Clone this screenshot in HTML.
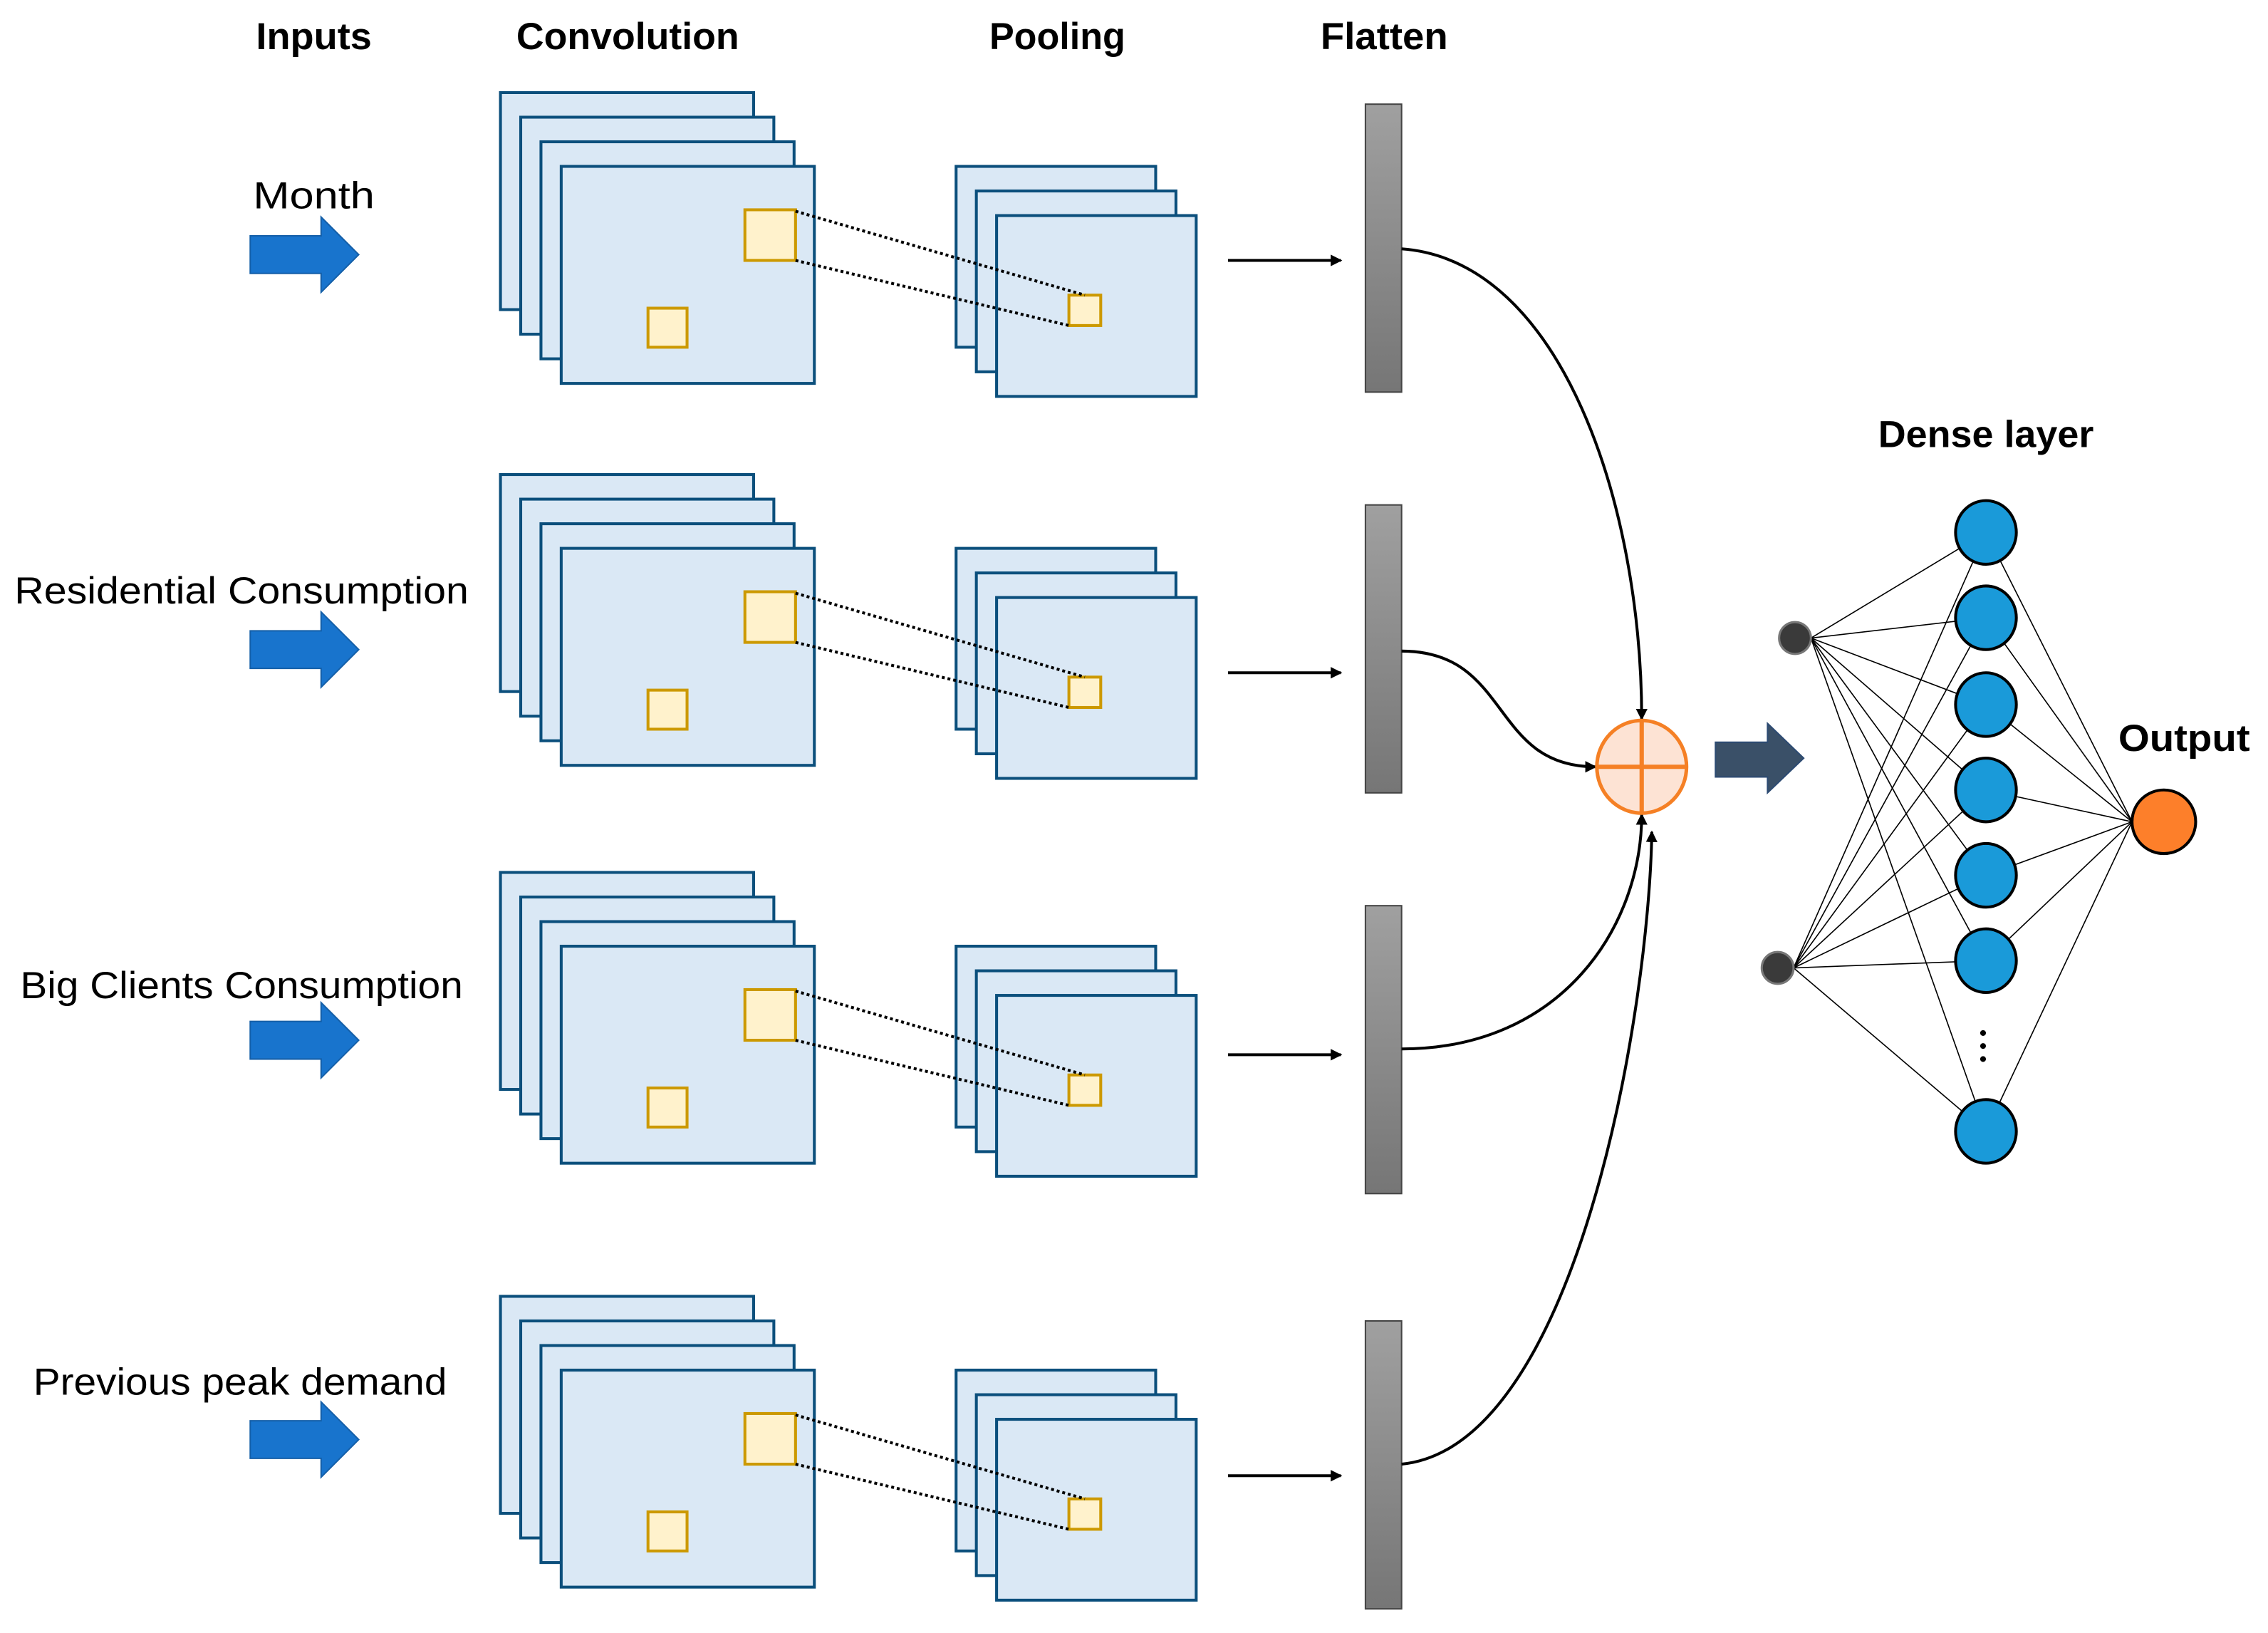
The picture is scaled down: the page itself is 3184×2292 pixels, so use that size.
<!DOCTYPE html>
<html><head><meta charset="utf-8"><style>html,body{margin:0;padding:0;background:#fff}svg{display:block}</style></head>
<body>
<svg width="3184" height="2292" viewBox="0 0 1568 1128.7" preserveAspectRatio="none" xmlns="http://www.w3.org/2000/svg" font-family="Liberation Sans, sans-serif">
<defs>
<linearGradient id="g" x1="0" y1="0" x2="0" y2="1"><stop offset="0" stop-color="#a0a0a0"/><stop offset="1" stop-color="#767676"/></linearGradient>
<marker id="ah" markerWidth="8" markerHeight="8" refX="7" refY="4" orient="auto" markerUnits="userSpaceOnUse"><path d="M0,0 L8,4 L0,8 Z" fill="#000"/></marker>
</defs>
<g font-weight="bold" font-size="26" text-anchor="middle" fill="#000">
<text x="217" y="34" textLength="80" lengthAdjust="spacingAndGlyphs">Inputs</text>
<text x="434" y="34" textLength="154" lengthAdjust="spacingAndGlyphs">Convolution</text>
<text x="731" y="34" textLength="94" lengthAdjust="spacingAndGlyphs">Pooling</text>
<text x="957" y="34" textLength="88" lengthAdjust="spacingAndGlyphs">Flatten</text>
<text x="1373" y="309" textLength="149" lengthAdjust="spacingAndGlyphs">Dense layer</text>
<text x="1510" y="519" textLength="91" lengthAdjust="spacingAndGlyphs">Output</text>
</g>
<g font-size="26" text-anchor="middle" fill="#000">
<text x="217" y="144" textLength="84" lengthAdjust="spacingAndGlyphs">Month</text>
<text x="167" y="417" textLength="314" lengthAdjust="spacingAndGlyphs">Residential Consumption</text>
<text x="167" y="690" textLength="306" lengthAdjust="spacingAndGlyphs">Big Clients Consumption</text>
<text x="166" y="964" textLength="286" lengthAdjust="spacingAndGlyphs">Previous peak demand</text>
</g>
<!-- rows -->
<g id="rows">
<!-- Row template instantiated 4 times -->
</g>
<g stroke="#0b4f7c" stroke-width="2" fill="#dae8f5">
<!-- row1 -->
<rect x="346" y="64" width="175" height="150"/><rect x="360" y="81" width="175" height="150"/><rect x="374" y="98" width="175" height="150"/><rect x="388" y="115" width="175" height="150"/>
<rect x="661" y="115" width="138" height="125"/><rect x="675" y="132" width="138" height="125"/><rect x="689" y="149" width="138" height="125"/>
<!-- row2 -->
<rect x="346" y="328" width="175" height="150"/><rect x="360" y="345" width="175" height="150"/><rect x="374" y="362" width="175" height="150"/><rect x="388" y="379" width="175" height="150"/>
<rect x="661" y="379" width="138" height="125"/><rect x="675" y="396" width="138" height="125"/><rect x="689" y="413" width="138" height="125"/>
<!-- row3 -->
<rect x="346" y="603" width="175" height="150"/><rect x="360" y="620" width="175" height="150"/><rect x="374" y="637" width="175" height="150"/><rect x="388" y="654" width="175" height="150"/>
<rect x="661" y="654" width="138" height="125"/><rect x="675" y="671" width="138" height="125"/><rect x="689" y="688" width="138" height="125"/>
<!-- row4 -->
<rect x="346" y="896" width="175" height="150"/><rect x="360" y="913" width="175" height="150"/><rect x="374" y="930" width="175" height="150"/><rect x="388" y="947" width="175" height="150"/>
<rect x="661" y="947" width="138" height="125"/><rect x="675" y="964" width="138" height="125"/><rect x="689" y="981" width="138" height="125"/>
</g>
<g fill="#fff2cc" stroke="#cc9900" stroke-width="2">
<rect x="515" y="145" width="35" height="35"/><rect x="448" y="213" width="27" height="27"/><rect x="739" y="204" width="22" height="21"/>
<rect x="515" y="409" width="35" height="35"/><rect x="448" y="477" width="27" height="27"/><rect x="739" y="468" width="22" height="21"/>
<rect x="515" y="684" width="35" height="35"/><rect x="448" y="752" width="27" height="27"/><rect x="739" y="743" width="22" height="21"/>
<rect x="515" y="977" width="35" height="35"/><rect x="448" y="1045" width="27" height="27"/><rect x="739" y="1036" width="22" height="21"/>
</g>
<g stroke="#000" stroke-width="2" stroke-dasharray="2,2">
<line x1="550" y1="146" x2="750" y2="204"/><line x1="550" y1="180" x2="739" y2="225"/>
<line x1="550" y1="410" x2="750" y2="468"/><line x1="550" y1="444" x2="739" y2="489"/>
<line x1="550" y1="685" x2="750" y2="743"/><line x1="550" y1="719" x2="739" y2="764"/>
<line x1="550" y1="978" x2="750" y2="1036"/><line x1="550" y1="1012" x2="739" y2="1057"/>
</g>
<g fill="#1874cd" stroke="#145fa8" stroke-width="1">
<path d="M173,163 H222 V150 L248,176 L222,202 V189 H173 Z"/>
<path d="M173,436 H222 V423 L248,449 L222,475 V462 H173 Z"/>
<path d="M173,706 H222 V693 L248,719 L222,745 V732 H173 Z"/>
<path d="M173,982 H222 V969 L248,995 L222,1021 V1008 H173 Z"/>
</g>
<g stroke="#000" stroke-width="2" marker-end="url(#ah)">
<line x1="849" y1="180" x2="927" y2="180"/><line x1="849" y1="465" x2="927" y2="465"/>
<line x1="849" y1="729" x2="927" y2="729"/><line x1="849" y1="1020" x2="927" y2="1020"/>
</g>
<g fill="url(#g)" stroke="#444" stroke-width="1">
<rect x="944" y="72" width="25" height="199"/><rect x="944" y="349" width="25" height="199"/>
<rect x="944" y="626" width="25" height="199"/><rect x="944" y="913" width="25" height="199"/>
</g>
<g stroke="#000" stroke-width="2" fill="none" marker-end="url(#ah)">
<path d="M969,172 C1080,180 1135,350 1135,497"/>
<path d="M969,450 C1045,450 1030,530 1103,530"/>
<path d="M969,725 C1080,725 1135,640 1135,563"/>
<path d="M969,1012 C1090,1000 1140,700 1142,575"/>
</g>
<ellipse cx="1135" cy="530" rx="31" ry="32" fill="#fde3d4" stroke="#f58025" stroke-width="2.5"/>
<g stroke="#f58025" stroke-width="3"><line x1="1104" y1="530" x2="1166" y2="530"/><line x1="1135" y1="498" x2="1135" y2="562"/></g>
<path d="M1186,513 H1222 V500 L1247,524 L1222,548 V537 H1186 Z" fill="#3a5068" stroke="#2c4a72" stroke-width="1"/>
<g stroke="#000" stroke-width="0.8">
<line x1="1252" y1="441" x2="1373" y2="368"/><line x1="1252" y1="441" x2="1373" y2="427"/><line x1="1252" y1="441" x2="1373" y2="487"/><line x1="1252" y1="441" x2="1373" y2="546"/><line x1="1252" y1="441" x2="1373" y2="605"/><line x1="1252" y1="441" x2="1373" y2="664"/><line x1="1252" y1="441" x2="1373" y2="782"/>
<line x1="1240" y1="669" x2="1373" y2="368"/><line x1="1240" y1="669" x2="1373" y2="427"/><line x1="1240" y1="669" x2="1373" y2="487"/><line x1="1240" y1="669" x2="1373" y2="546"/><line x1="1240" y1="669" x2="1373" y2="605"/><line x1="1240" y1="669" x2="1373" y2="664"/><line x1="1240" y1="669" x2="1373" y2="782"/>
<line x1="1373" y1="368" x2="1474" y2="568"/><line x1="1373" y1="427" x2="1474" y2="568"/><line x1="1373" y1="487" x2="1474" y2="568"/><line x1="1373" y1="546" x2="1474" y2="568"/><line x1="1373" y1="605" x2="1474" y2="568"/><line x1="1373" y1="664" x2="1474" y2="568"/><line x1="1373" y1="782" x2="1474" y2="568"/>
</g>
<g fill="#1a9ad9" stroke="#000" stroke-width="2">
<ellipse cx="1373" cy="368" rx="21" ry="22"/><ellipse cx="1373" cy="427" rx="21" ry="22"/><ellipse cx="1373" cy="487" rx="21" ry="22"/><ellipse cx="1373" cy="546" rx="21" ry="22"/><ellipse cx="1373" cy="605" rx="21" ry="22"/><ellipse cx="1373" cy="664" rx="21" ry="22"/><ellipse cx="1373" cy="782" rx="21" ry="22"/>
</g>
<g fill="#000"><circle cx="1371" cy="714" r="2"/><circle cx="1371" cy="723" r="2"/><circle cx="1371" cy="732" r="2"/></g>
<ellipse cx="1496" cy="568" rx="22" ry="22" fill="#fd7f2a" stroke="#000" stroke-width="2"/>
<g fill="#3a3a3a" stroke="#777" stroke-width="1.5"><circle cx="1241" cy="441" r="11"/><circle cx="1229" cy="669" r="11"/></g>
</svg>
</body></html>
